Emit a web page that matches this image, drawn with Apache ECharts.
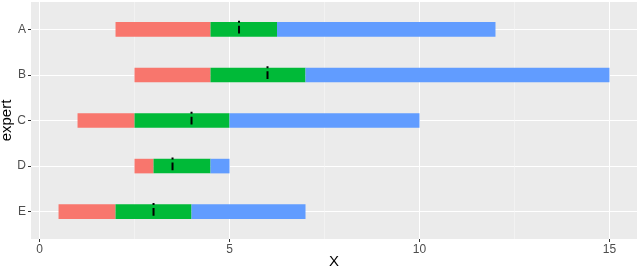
<!DOCTYPE html>
<html>
<head>
<meta charset="utf-8">
<script src="https://cdn.jsdelivr.net/npm/echarts@6/dist/echarts.min.js"></script>
<style>html,body{margin:0;padding:0;background:#fff;}#chart{width:641px;height:271px;}</style>
</head>
<body>
<div id="chart"></div>
<script>
const categories = ['A', 'B', 'C', 'D', 'E'];
const minVals = [2, 2.5, 1, 2.5, 0.5];
const q1Vals = [4.5, 4.5, 2.5, 3, 2];
const q3Vals = [6.25, 7, 5, 4.5, 4];
const maxVals = [12, 15, 10, 5, 7];
const medVals = [5.25, 6, 4, 3.5, 3];
const xTicks = [0, 5, 10, 15];
const xMinorTicks = [2.5, 7.5, 12.5];

const colors = ['#F8766D', '#00BA38', '#619CFF'];
const FONT = '"Liberation Sans", Arial, sans-serif';

function segData(lo, hi) {
  return categories.map((c, i) => [i, lo[i], hi[i]]);
}
function barSeries(lo, hi, color) {
  return {
    type: 'custom',
    xAxisIndex: 0, yAxisIndex: 0,
    data: segData(lo, hi),
    encode: { x: [1, 2], y: 0 },
    renderItem: function (params, api) {
      const y = api.value(0);
      const p1 = api.coord([api.value(1), y]);
      const p2 = api.coord([api.value(2), y]);
      const h = Math.abs(api.size([0, 0.32])[1]);
      return {
        type: 'rect',
        shape: { x: p1[0], y: p1[1] - h / 2, width: p2[0] - p1[0], height: h },
        style: { fill: color }
      };
    }
  };
}

const chart = echarts.init(document.getElementById('chart'), null, { renderer: 'canvas' });
const option = {
  animation: false,
  backgroundColor: '#ffffff',
  grid: { left: 31, right: 4, top: 2, bottom: 32, show: true, backgroundColor: '#EBEBEB', borderWidth: 0,
    containLabel: false, outerBoundsMode: 'none' },
  xAxis: [{
    type: 'value', min: -0.225, max: 15.725,
    name: 'X', nameLocation: 'middle', nameGap: 15, nameMoveOverlap: false,
    nameTextStyle: { color: '#000', fontSize: 15, fontFamily: FONT },
    axisLine: { show: false, onZero: false },
    axisTick: { show: true, length: 3, lineStyle: { color: '#333333', width: 1 }, customValues: xTicks },
    axisLabel: { color: '#4D4D4D', fontSize: 12, fontFamily: FONT, margin: 5, customValues: xTicks },
    splitLine: { show: true, lineStyle: { color: '#ffffff', width: 1.1 } }
  }, {
    type: 'value', min: -0.225, max: 15.725, position: 'bottom',
    axisLine: { show: false, onZero: false },
    axisTick: { show: false, customValues: xMinorTicks },
    axisLabel: { show: false, customValues: xMinorTicks },
    splitLine: { show: true, lineStyle: { color: '#F7F7F7', width: 0.6 } }
  }],
  yAxis: [{
    type: 'value', min: -0.6, max: 4.6, inverse: true,
    name: 'expert', nameLocation: 'middle', nameGap: 17, nameRotate: 90, nameMoveOverlap: false,
    nameTextStyle: { color: '#000', fontSize: 15, fontFamily: FONT },
    axisLine: { show: false, onZero: false },
    axisTick: { show: true, length: 3, lineStyle: { color: '#333333', width: 1 }, customValues: [0, 1, 2, 3, 4] },
    axisLabel: { color: '#4D4D4D', fontSize: 12, fontFamily: FONT, margin: 5,
      customValues: [0, 1, 2, 3, 4], formatter: v => categories[Math.round(v)] },
    splitLine: { show: true, lineStyle: { color: '#ffffff', width: 1.1 } }
  }],
  series: [
    barSeries(minVals, q1Vals, colors[0]),
    barSeries(q1Vals, q3Vals, colors[1]),
    barSeries(q3Vals, maxVals, colors[2]),
    {
      type: 'custom',
      data: categories.map((c, i) => [i, medVals[i]]),
      encode: { x: 1, y: 0 },
      z: 5,
      renderItem: function (params, api) {
        const y = api.value(0);
        const x = api.value(1);
        const a = api.coord([x, y - 0.19]);
        const b = api.coord([x, y + 0.09]);
        return {
          type: 'line',
          shape: { x1: a[0], y1: a[1], x2: b[0], y2: b[1] },
          style: { stroke: '#000000', lineWidth: 2, lineDash: [2, 3, 9, 20] }
        };
      }
    }
  ]
};
chart.setOption(option);
</script>
</body>
</html>
